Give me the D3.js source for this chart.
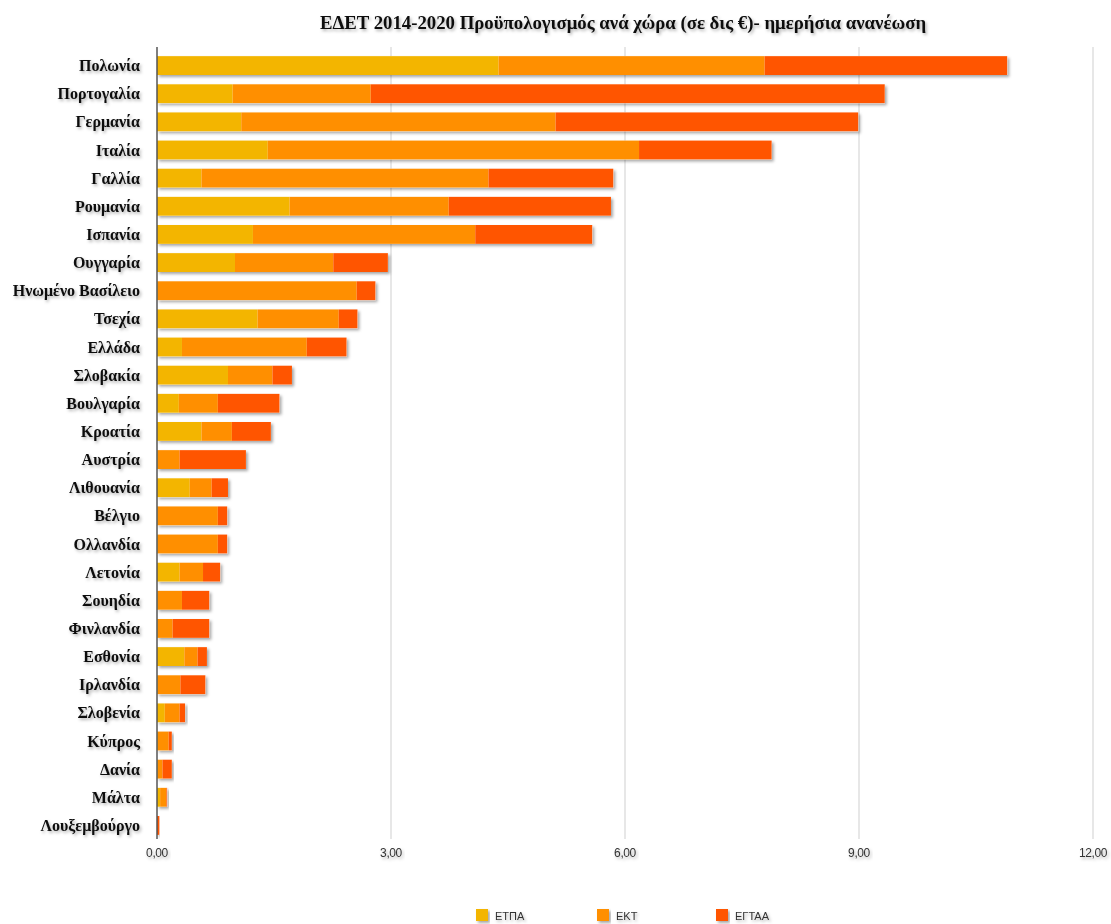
<!DOCTYPE html>
<html>
<head>
<meta charset="utf-8">
<script src="https://cdn.jsdelivr.net/npm/d3@7"></script>
<style>
  body { margin: 0; background: #fff; }
  svg { display: block; }
</style>
</head>
<body>
<div id="chart"></div>
<script>
const countries = ['Πολωνία', 'Πορτογαλία', 'Γερμανία', 'Ιταλία', 'Γαλλία', 'Ρουμανία', 'Ισπανία',
    'Ουγγαρία', 'Ηνωμένο Βασίλειο', 'Τσεχία', 'Ελλάδα', 'Σλοβακία', 'Βουλγαρία', 'Κροατία',
    'Αυστρία', 'Λιθουανία', 'Βέλγιο', 'Ολλανδία', 'Λετονία', 'Σουηδία', 'Φινλανδία', 'Εσθονία',
    'Ιρλανδία', 'Σλοβενία', 'Κύπρος', 'Δανία', 'Μάλτα', 'Λουξεμβούργο'];
const etpa = [4.38, 0.97, 1.08, 1.42, 0.57, 1.70, 1.23, 1.00, 0.01, 1.29, 0.32, 0.91, 0.28, 0.57,
    0.01, 0.42, 0.01, 0.01, 0.29, 0.01, 0.01, 0.35, 0.01, 0.10, 0.01, 0.01, 0.04, 0.00];
const ekt = [3.41, 1.77, 4.03, 4.76, 3.68, 2.04, 2.85, 1.26, 2.55, 1.04, 1.60, 0.57, 0.50, 0.39,
    0.28, 0.28, 0.77, 0.77, 0.30, 0.31, 0.19, 0.17, 0.29, 0.19, 0.14, 0.06, 0.08, 0.00];
const egtaa = [3.11, 6.59, 3.88, 1.70, 1.60, 2.08, 1.50, 0.70, 0.24, 0.24, 0.51, 0.25, 0.79, 0.50,
    0.85, 0.21, 0.12, 0.12, 0.22, 0.35, 0.47, 0.12, 0.32, 0.07, 0.04, 0.12, 0.01, 0.03];
const seriesNames = ['ΕΤΠΑ', 'ΕΚΤ', 'ΕΓΤΑΑ'];
const xTicks = [0, 3, 6, 9, 12];

const colors = ['#F3B500', '#FF8F00', '#FF5500'];
const width = 1111, height = 924;
const margin = { left: 157, right: 18, top: 51.5, bottom: 84.5 };

const rows = countries.map((c, i) => ({ country: c, values: [etpa[i], ekt[i], egtaa[i]] }));
const stack = d3.stack().keys([0, 1, 2]).value((d, k) => d.values[k]);
const layers = stack(rows);

const svg = d3.select('#chart').append('svg')
    .attr('width', width)
    .attr('height', height);

const defs = svg.append('defs');
defs.append('filter').attr('id', 'barShadow')
    .attr('x', '-5%').attr('y', '-20%').attr('width', '115%').attr('height', '160%')
    .append('feDropShadow')
    .attr('dx', 2).attr('dy', 2).attr('stdDeviation', 1.6)
    .attr('flood-color', '#000').attr('flood-opacity', 0.35);
defs.append('filter').attr('id', 'textShadow')
    .attr('x', '-5%').attr('y', '-30%').attr('width', '115%').attr('height', '180%')
    .append('feDropShadow')
    .attr('dx', 1.5).attr('dy', 2).attr('stdDeviation', 1.5)
    .attr('flood-color', '#000').attr('flood-opacity', 0.3);

const x = d3.scaleLinear().domain([0, 12]).range([margin.left, 1093]);
const y = d3.scaleBand().domain(countries)
    .range([margin.top, height - margin.bottom])
    .paddingInner(0.33).paddingOuter(0.165);

// title
svg.append('text')
    .attr('x', 623).attr('y', 29)
    .attr('text-anchor', 'middle')
    .attr('filter', 'url(#textShadow)')
    .style('font-family', '"Liberation Serif", "DejaVu Serif", serif')
    .style('font-weight', 'bold')
    .style('font-size', '18.8px')
    .style('fill', '#111')
    .text('ΕΔΕΤ 2014-2020 Προϋπολογισμός ανά χώρα (σε δις €)- ημερήσια ανανέωση');

// vertical grid lines
svg.append('g').selectAll('line')
    .data(xTicks.filter(t => t > 0))
    .enter().append('line')
    .attr('x1', d => x(d)).attr('x2', d => x(d))
    .attr('y1', 47).attr('y2', 839)
    .attr('stroke', '#cfcfcf').attr('stroke-width', 1);

// shadow under each full bar (drawn behind the segments)
svg.append('g').selectAll('rect')
    .data(rows)
    .enter().append('rect')
    .attr('x', x(0))
    .attr('y', d => y(d.country))
    .attr('width', d => x(d3.sum(d.values)) - x(0))
    .attr('height', y.bandwidth())
    .attr('fill', '#fff')
    .attr('filter', 'url(#barShadow)');

// bars
svg.append('g').selectAll('g')
    .data(layers)
    .enter().append('g')
    .attr('fill', (d, i) => colors[i])
    .selectAll('rect')
    .data(d => d)
    .enter().append('rect')
    .attr('x', d => x(d[0]))
    .attr('y', d => y(d.data.country))
    .attr('width', d => Math.max(0, x(d[1]) - x(d[0])))
    .attr('height', y.bandwidth());

// category labels
svg.append('g').selectAll('text')
    .data(countries)
    .enter().append('text')
    .attr('x', 140)
    .attr('y', d => y(d) + y.bandwidth() / 2)
    .attr('dy', '0.35em')
    .attr('text-anchor', 'end')
    .attr('filter', 'url(#textShadow)')
    .style('font-family', '"Liberation Serif", "DejaVu Serif", serif')
    .style('font-weight', 'bold')
    .style('font-size', '16px')
    .style('fill', '#111')
    .text(d => d);

// y axis line
svg.append('line')
    .attr('x1', x(0)).attr('x2', x(0))
    .attr('y1', 47).attr('y2', 839)
    .attr('stroke', '#555').attr('stroke-width', 1.5);

// x tick labels
const fmt = d => d3.format('.2f')(d).replace('.', ',');
svg.append('g').selectAll('text')
    .data(xTicks)
    .enter().append('text')
    .attr('x', d => x(d))
    .attr('y', 857)
    .attr('text-anchor', 'middle')
    .attr('filter', 'url(#textShadow)')
    .style('font-family', '"Liberation Sans", Arial, sans-serif')
    .style('font-size', '12px')
    .style('letter-spacing', '-0.4px')
    .style('fill', '#333')
    .text(fmt);

// legend
const legendX = [476, 597, 716];
const legend = svg.append('g').selectAll('g')
    .data(seriesNames)
    .enter().append('g')
    .attr('transform', (d, i) => 'translate(' + legendX[i] + ',909)');
legend.append('rect')
    .attr('width', 12).attr('height', 12)
    .attr('fill', (d, i) => colors[i])
    .attr('filter', 'url(#barShadow)');
legend.append('text')
    .attr('x', 19).attr('y', 11)
    .attr('filter', 'url(#textShadow)')
    .style('font-family', '"Liberation Sans", Arial, sans-serif')
    .style('font-size', '11px')
    .style('fill', '#333')
    .text(d => d);
</script>
</body>
</html>
